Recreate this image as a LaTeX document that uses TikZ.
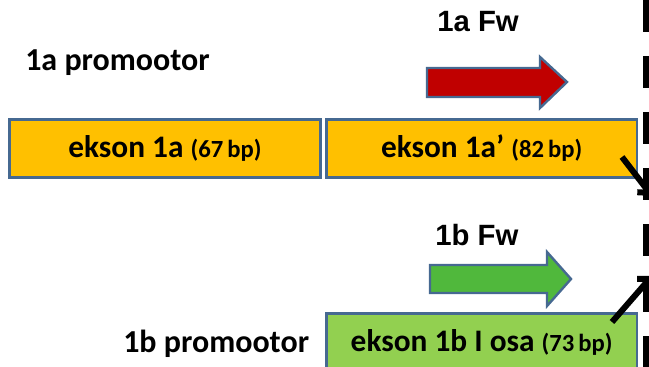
\documentclass[tikz,border=0pt]{standalone}
\usepackage{fontspec}
\setmainfont{Carlito}
\newfontfamily\arialfont{Liberation Sans}
\usetikzlibrary{positioning,arrows.meta}

\definecolor{exonorange}{RGB}{255,192,0}
\definecolor{exongreen}{RGB}{146,208,80}
\definecolor{fwred}{RGB}{192,0,0}
\definecolor{fwgreen}{RGB}{80,184,60}
\definecolor{edgeblue}{RGB}{70,105,145}

\tikzset{
	exon/.style={draw=edgeblue, line width=2.2pt, minimum width=233pt, minimum height=43.5pt,
		inner sep=0pt, outer sep=0pt, font=\bfseries\fontsize{23.5}{26}\selectfont},
	promoter/.style={anchor=base west, inner sep=0pt, font=\bfseries\fontsize{24}{27}\selectfont},
	fwlabel/.style={anchor=base west, inner sep=0pt, font=\arialfont\bfseries\fontsize{22}{25}\selectfont},
	fwarrow/.style={draw=edgeblue, line width=1.8pt, line join=miter},
	junction/.style={line width=4.5pt, -{Straight Barb[length=6pt,width=14pt]}},
}
\newcommand{\bpsize}[1]{{\fontsize{18.5}{20}\selectfont(#1\,bp)}}

\begin{document}
\begin{tikzpicture}[x=0.75pt,y=-0.75pt]
	\clip (0,0) rectangle (649,367);
	%
	\node[exon, fill=exonorange] (ex1a) at (165,148.5) {ekson 1a \bpsize{67}};
	\node[exon, fill=exonorange, right=4.5pt of ex1a] (ex1ap) {ekson 1a’ \bpsize{82}};
	\node[exon, fill=exongreen, below=102pt of ex1ap] (ex1b) {ekson 1b I osa \bpsize{73}};
	%
	\node[promoter] (pr1a) at (25,71) {1a promootor};
	\node[promoter] (pr1b) at (123,352) {1b promootor};
	\node[fwlabel] (fw1a) at (437,32) {1a Fw};
	\node[fwlabel] (fw1b) at (435,245) {1b Fw};
	%
	\draw[fwarrow, fill=fwred] (427,68) -- (540,68) -- (540,57) -- (567,82) -- (540,108) -- (540,97) -- (427,97) -- cycle;
	\draw[fwarrow, fill=fwgreen] (430,265) -- (547,265) -- (547,252) -- (571,279) -- (547,306) -- (547,293) -- (430,293) -- cycle;
	%
	\draw[line width=4.5pt, dash pattern=on 24pt off 18pt] (646,0) -- (646,367);
	%
	\coordinate (j1s) at (622,157);
	\coordinate (j1e) at (652,196);
	\coordinate (j2s) at (612,322);
	\coordinate (j2e) at (652,276);
	\draw[junction] (j1s) -- (j1e);
	\draw[junction] (j2s) -- (j2e);
\end{tikzpicture}
\end{document}
